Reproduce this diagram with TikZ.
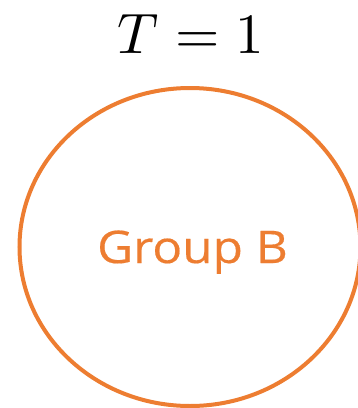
\documentclass[tikz,border=0pt]{standalone}
\usepackage{unicode-math}
\setmathfont{Latin Modern Math}
\newfontfamily\groupfont[FakeBold=0.4]{Open Sans}
\begin{document}
\begin{tikzpicture}[x=1pt,y=1pt,yscale=-1,xscale=1]
\useasboundingbox (0,0) rectangle (357,408);
%Shape: Ellipse [id:groupB]
\draw [color={rgb, 255:red, 237; green, 125; blue, 49 }, line width=4pt] (190,247) ellipse (170.5 and 159);

% Text Node
\draw (191,53) node [anchor=base, inner sep=0pt] (title) [font=\fontsize{57}{60}\selectfont] {$T=1$};
% Text Node
\draw (192.5,263) node [anchor=base, inner sep=0pt, xscale=1.1] (groupname) [color={rgb, 255:red, 237; green, 125; blue, 49 }, font=\groupfont\fontsize{45}{50}\selectfont] {Group B};
\end{tikzpicture}
\end{document}
